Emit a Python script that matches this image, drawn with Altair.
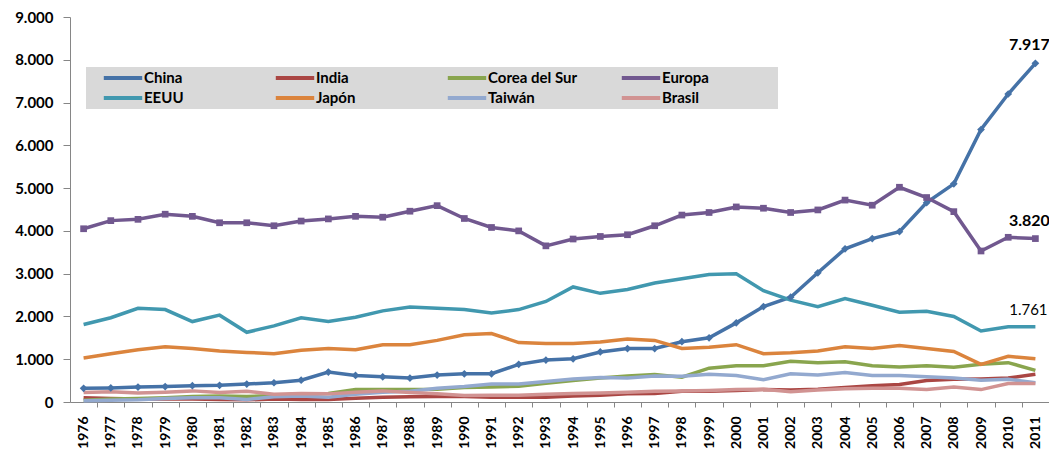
import altair as alt
import pandas as pd

years = list(range(1976, 2012))

china = [320, 330, 350, 360, 380, 390, 420, 450, 510, 700, 620, 590, 560, 630, 660, 660,
         880, 980, 1010, 1170, 1250, 1250, 1410, 1500, 1850, 2230, 2450, 3020, 3580, 3820,
         3980, 4660, 5100, 6370, 7200, 7917]
india = [100, 80, 70, 70, 70, 60, 50, 70, 60, 60, 90, 110, 120, 130, 130, 110,
         110, 110, 140, 160, 190, 200, 250, 250, 270, 290, 280, 300, 340, 380,
         410, 500, 530, 540, 560, 650]
corea = [40, 70, 80, 100, 130, 140, 130, 150, 190, 200, 290, 290, 290, 300, 340, 350,
         370, 440, 500, 560, 610, 640, 580, 790, 850, 850, 950, 920, 940, 850,
         820, 850, 810, 880, 920, 740]
europa = [4050, 4240, 4270, 4390, 4340, 4190, 4190, 4120, 4230, 4280, 4340, 4320, 4460, 4590,
          4290, 4080, 4000, 3650, 3810, 3870, 3910, 4120, 4370, 4430, 4560, 4530, 4430, 4490,
          4720, 4600, 5020, 4780, 4450, 3530, 3850, 3820]
eeuu = [1810, 1970, 2190, 2160, 1880, 2030, 1630, 1780, 1970, 1880, 1980, 2130, 2220, 2190,
        2160, 2080, 2160, 2350, 2690, 2540, 2630, 2780, 2880, 2980, 3000, 2600, 2380, 2230,
        2420, 2260, 2100, 2120, 2000, 1660, 1760, 1761]
japon = [1030, 1130, 1220, 1290, 1250, 1190, 1160, 1130, 1210, 1250, 1220, 1340, 1340, 1440,
         1570, 1600, 1390, 1370, 1370, 1400, 1470, 1440, 1250, 1280, 1340, 1130, 1150, 1190,
         1290, 1250, 1320, 1250, 1180, 880, 1070, 1010]
taiwan = [30, 40, 50, 80, 100, 100, 60, 120, 140, 110, 180, 230, 250, 320, 360, 420,
          420, 480, 540, 570, 560, 610, 600, 650, 620, 520, 660, 630, 690, 620,
          620, 590, 560, 510, 530, 450]
brasil = [220, 240, 210, 230, 260, 220, 250, 180, 200, 190, 230, 260, 220, 190, 150, 160,
          160, 180, 200, 210, 230, 250, 260, 270, 290, 300, 240, 280, 310, 320,
          320, 290, 350, 290, 430, 430]

series = ["China", "India", "Corea del Sur", "Europa", "EEUU", "Japón", "Taiwán", "Brasil"]
colors = ["#4572A7", "#AA4643", "#89A54E", "#71588F", "#4198AF", "#DB843D", "#93A9CF", "#D19392"]
values = [china, india, corea, europa, eeuu, japon, taiwan, brasil]

rows = []
for name, vals in zip(series, values):
    for yr, v in zip(years, vals):
        rows.append({"Año": yr, "País": name, "Valor": v})
df = pd.DataFrame(rows)

FONT = "Lato"
W, H = 979, 385
half = W / 36 / 2

x = alt.X("Año:Q",
          scale=alt.Scale(domain=[1975.5, 2011.5], nice=False, zero=False),
          axis=alt.Axis(values=years, format="d", labelAngle=-90, title=None, grid=False,
                        tickOffset=half, labelOffset=-half, tickSize=5, labelPadding=9,
                        labelFont=FONT, labelFontSize=14, labelFontWeight="bold",
                        labelColor="black", domainColor="#868686", tickColor="#868686"))
y = alt.Y("Valor:Q",
          scale=alt.Scale(domain=[0, 9000], nice=False),
          axis=alt.Axis(values=list(range(0, 9001, 1000)), title=None, grid=False,
                        labelExpr="replace(format(datum.value, ','), ',', '.')",
                        tickSize=7, labelPadding=10,
                        labelFont=FONT, labelFontSize=15, labelFontWeight="bold",
                        labelColor="black", domainColor="#868686", tickColor="#868686"))

blank = "\u2800"
pad_a = "\u2009\u2009" + blank * 4
pad_b = blank * 6
legend_label_expr = (
    "indexof(['China', 'India', 'EEUU', 'Japón'], datum.label) >= 0 ? datum.label + '" + pad_a + "' : "
    "indexof(['Europa', 'Brasil'], datum.label) >= 0 ? datum.label + '" + pad_b + "' : datum.label"
)
color = alt.Color("País:N",
                  scale=alt.Scale(domain=series, range=colors),
                  legend=alt.Legend(title=None, orient="none", legendX=16, legendY=50,
                                    direction="horizontal", columns=4, gridAlign="each",
                                    fillColor="#D9D9D9", padding=3, symbolOffset=26,
                                    symbolType="M-3.2,0H3.2", symbolStrokeWidth=4,
                                    symbolSize=144, labelExpr=legend_label_expr,
                                    labelFont=FONT, labelFontSize=15, labelFontWeight="bold",
                                    labelColor="black", labelOffset=13,
                                    columnPadding=29, rowPadding=4))

layers = []
for name in series:
    layers.append(
        alt.Chart(df).transform_filter(alt.datum["País"] == name)
        .mark_line(strokeWidth=3.5)
        .encode(x=x, y=y, color=color)
    )

china_pts = (alt.Chart(df).transform_filter(alt.datum["País"] == "China")
             .mark_point(filled=True, shape="diamond", size=60, opacity=1)
             .encode(x=x, y=y, color=color))
europa_pts = (alt.Chart(df).transform_filter(alt.datum["País"] == "Europa")
              .mark_point(filled=True, shape="square", size=45, opacity=1)
              .encode(x=x, y=y, color=color))

lbl_expr = "replace(format(datum.Valor, ','), ',', '.')"
bold_lbl = (alt.Chart(df)
            .transform_filter((alt.datum["Año"] == 2011) &
                              ((alt.datum["País"] == "China") | (alt.datum["País"] == "Europa")))
            .transform_calculate(lbl=lbl_expr)
            .mark_text(dy=-18, dx=-6, font=FONT, fontSize=16, fontWeight="bold", color="black")
            .encode(x=x, y=y, text="lbl:N"))
normal_lbl = (alt.Chart(df)
              .transform_filter((alt.datum["Año"] == 2011) & (alt.datum["País"] == "EEUU"))
              .transform_calculate(lbl=lbl_expr)
              .mark_text(dy=-17, dx=-7, font=FONT, fontSize=15, color="black")
              .encode(x=x, y=y, text="lbl:N"))

chart = alt.layer(*layers, china_pts, europa_pts, bold_lbl, normal_lbl).properties(
    width=W, height=H,
    autosize=alt.AutoSizeParams(type="none"),
    padding={"left": 62, "top": 9, "right": 0, "bottom": 50},
    background="white",
).configure_view(stroke=None)

chart.save("out.html", embed_options={"renderer": "svg", "actions": False})
